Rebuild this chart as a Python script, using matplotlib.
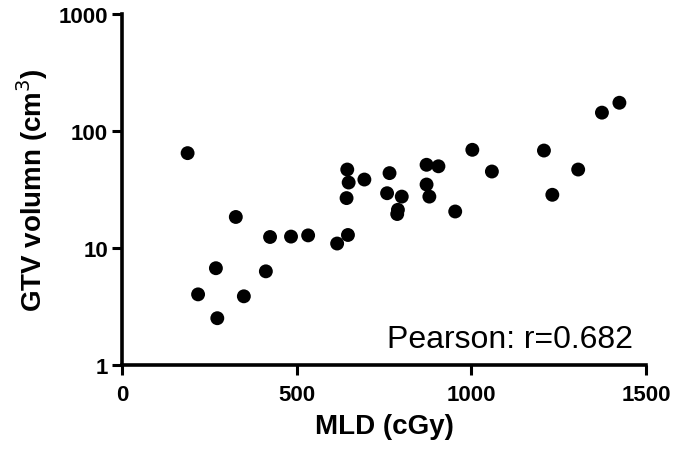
import matplotlib.pyplot as plt
from matplotlib.ticker import FixedLocator, NullLocator, FixedFormatter

# MLD (cGy) vs GTV volume (cm^3)
mld = [188, 218, 273, 269, 326, 349, 412, 424, 484, 533,
       616, 647, 645, 649, 643, 694, 766, 759, 801, 788,
       790, 872, 906, 872, 880, 1003, 954, 1059, 1208, 1232,
       1306, 1374, 1424]
gtv = [64.8, 4.0, 2.5, 6.7, 18.4, 3.85, 6.3, 12.4, 12.5, 12.8,
       10.9, 12.9, 46.9, 36.3, 26.7, 38.5, 43.7, 29.4, 27.5, 19.5,
       21.2, 51.5, 50.0, 34.9, 27.5, 69.2, 20.5, 45.1, 68.2, 28.5,
       46.9, 144, 175]

x_ticks = [0, 500, 1000, 1500]
y_ticks = [1, 10, 100, 1000]
y_tick_labels = ["1", "10", "100", "1000"]

plt.rcParams["font.family"] = ["Liberation Sans", "DejaVu Sans"]

fig = plt.figure(figsize=(6.85, 4.52), dpi=100)
ax = fig.add_axes([0.178, 0.191, 0.765, 0.775])

ax.scatter(mld, gtv, s=100, color="black", edgecolors="none", zorder=3, clip_on=False)

ax.set_yscale("log")
ax.set_xlim(0, 1500)
ax.set_ylim(1, 1000)
ax.xaxis.set_major_locator(FixedLocator(x_ticks))
ax.yaxis.set_major_locator(FixedLocator(y_ticks))
ax.yaxis.set_major_formatter(FixedFormatter(y_tick_labels))
ax.yaxis.set_minor_locator(NullLocator())

for side in ["top", "right"]:
    ax.spines[side].set_visible(False)
for side in ["left", "bottom"]:
    ax.spines[side].set_linewidth(2.6)

ax.tick_params(axis="both", which="major", direction="out", length=7, width=2.2,
               labelsize=16, pad=3)
ax.tick_params(axis="x", pad=7)
for lab in ax.get_xticklabels() + ax.get_yticklabels():
    lab.set_fontweight("bold")

ax.set_xlabel("MLD (cGy)", fontsize=20, fontweight="bold", labelpad=6)
ax.set_ylabel("GTV volumn (cm$^3$)", fontsize=20, fontweight="bold", labelpad=6)

ax.text(0.975, 0.05, "Pearson: r=0.682", transform=ax.transAxes, ha="right", va="baseline",
        fontsize=23)

fig.savefig("out.png", dpi=100)
